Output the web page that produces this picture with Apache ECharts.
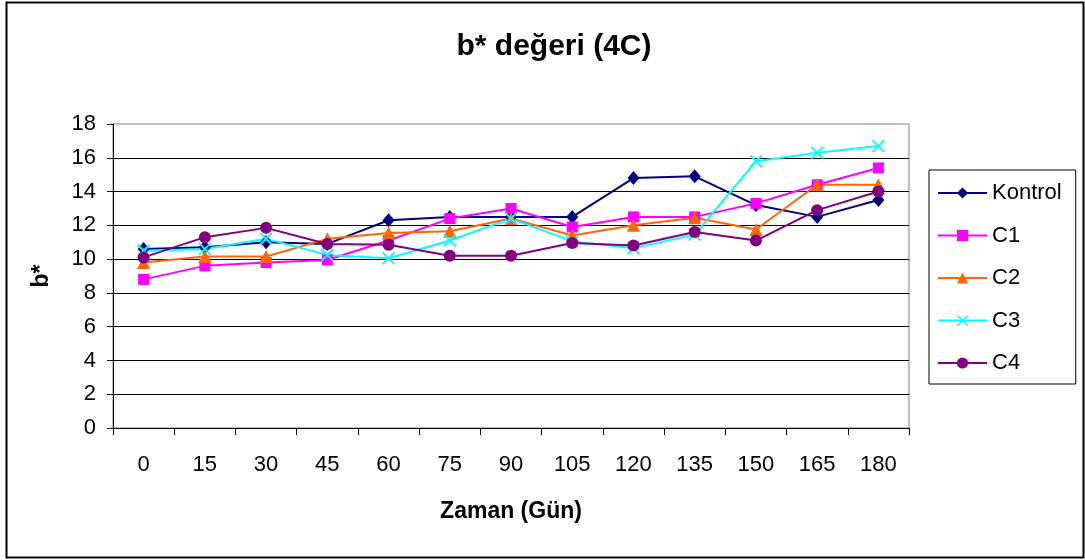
<!DOCTYPE html>
<html>
<head>
<meta charset="utf-8">
<script src="https://cdn.jsdelivr.net/npm/echarts@6/dist/echarts.min.js"></script>
<style>
  html, body { margin: 0; padding: 0; background: #fff; }
  #chart { width: 1085px; height: 560px; }
</style>
</head>
<body>
<div id="chart"></div>
<script>
// Storage days
const days = ['0', '15', '30', '45', '60', '75', '90', '105', '120', '135', '150', '165', '180'];

// b* colour values per group
const kontrol = [10.6, 10.7, 11.0, 10.9, 12.3, 12.5, 12.5, 12.5, 14.8, 14.9, 13.2, 12.5, 13.5];
const c1 = [8.8, 9.6, 9.8, 9.95, 11.1, 12.4, 13.0, 11.9, 12.5, 12.5, 13.3, 14.4, 15.4];
const c2 = [9.8, 10.15, 10.15, 11.2, 11.55, 11.65, 12.4, 11.4, 12.0, 12.45, 11.75, 14.4, 14.4];
const c3 = [10.5, 10.6, 11.2, 10.25, 10.05, 11.1, 12.4, 11.05, 10.65, 11.45, 15.8, 16.3, 16.7];
const c4 = [10.1, 11.3, 11.85, 10.9, 10.85, 10.2, 10.2, 10.95, 10.8, 11.6, 11.1, 12.9, 14.0];

const yTicks = { min: 0, max: 18, interval: 2 };

const FONT = '"Liberation Sans", Arial, sans-serif';
const CROSS = 'path://M0,1 L1,0 L5,4 L9,0 L10,1 L6,5 L10,9 L9,10 L5,6 L1,10 L0,9 L4,5 Z';

function lineSeries(name, data, color, symbol, size) {
  return {
    name: name,
    type: 'line',
    data: data,
    symbol: symbol,
    symbolSize: size,
    showAllSymbol: true,
    lineStyle: { color: color, width: 2 },
    itemStyle: { color: color, borderWidth: 0 },
    emphasis: { disabled: true },
    animation: false
  };
}

const chart = echarts.init(document.getElementById('chart'), null, { renderer: 'canvas' });
chart.setOption({
  animation: false,
  backgroundColor: '#fff',
  textStyle: { fontFamily: FONT, color: '#000' },
  title: {
    text: 'b* değeri (4C)',
    left: 549,
    textAlign: 'center',
    top: 27,
    textStyle: { fontFamily: FONT, fontSize: 30, fontWeight: 'bold', color: '#000' }
  },
  graphic: [{
    type: 'rect',
    shape: { x: 6.5, y: 2.5, width: 1077, height: 555 },
    style: { fill: 'none', stroke: '#000', lineWidth: 2 },
    silent: true
  }],
  legend: {
    orient: 'vertical',
    left: 929,
    top: 170,
    padding: [12, 14, 10, 8],
    itemGap: 20.5,
    itemWidth: 49,
    itemHeight: 14,
    borderColor: '#000',
    borderWidth: 1,
    textStyle: { fontFamily: FONT, fontSize: 22, color: '#000' },
    data: ['Kontrol', 'C1', 'C2', 'C3', 'C4']
  },
  grid: {
    left: 113, right: 176, top: 124, bottom: 132,
    show: true, borderColor: '#808080', borderWidth: 1,
    containLabel: false
  },
  xAxis: {
    type: 'category',
    data: days,
    boundaryGap: true,
    name: 'Zaman (Gün)',
    nameLocation: 'middle',
    nameGap: 72,
    nameTextStyle: { fontFamily: FONT, fontSize: 23, fontWeight: 'bold', color: '#000' },
    axisLine: { lineStyle: { color: '#000', width: 1 } },
    axisTick: { show: true, interval: 0, length: 7, lineStyle: { color: '#000' } },
    axisLabel: { interval: 0, margin: 26, fontFamily: FONT, fontSize: 22, color: '#000' },
    splitLine: { show: false }
  },
  yAxis: {
    type: 'value',
    min: yTicks.min,
    max: yTicks.max,
    interval: yTicks.interval,
    name: 'b*',
    nameLocation: 'middle',
    nameGap: 60,
    nameRotate: 90,
    nameTextStyle: { fontFamily: FONT, fontSize: 23, fontWeight: 'bold', color: '#000' },
    axisLine: { show: true, lineStyle: { color: '#000', width: 1 } },
    axisTick: { show: true, length: 6, lineStyle: { color: '#000' } },
    axisLabel: { margin: 17, fontFamily: FONT, fontSize: 22, color: '#000' },
    splitLine: { show: true, showMaxLine: false, lineStyle: { color: '#000', width: 1 } }
  },
  series: [
    lineSeries('Kontrol', kontrol, '#000080', 'diamond', [12, 14]),
    lineSeries('C1', c1, '#FF00FF', 'rect', 11),
    lineSeries('C2', c2, '#FF6600', 'triangle', 13),
    lineSeries('C3', c3, '#00FFFF', CROSS, 13),
    lineSeries('C4', c4, '#800080', 'circle', 12)
  ]
});
</script>
</body>
</html>
